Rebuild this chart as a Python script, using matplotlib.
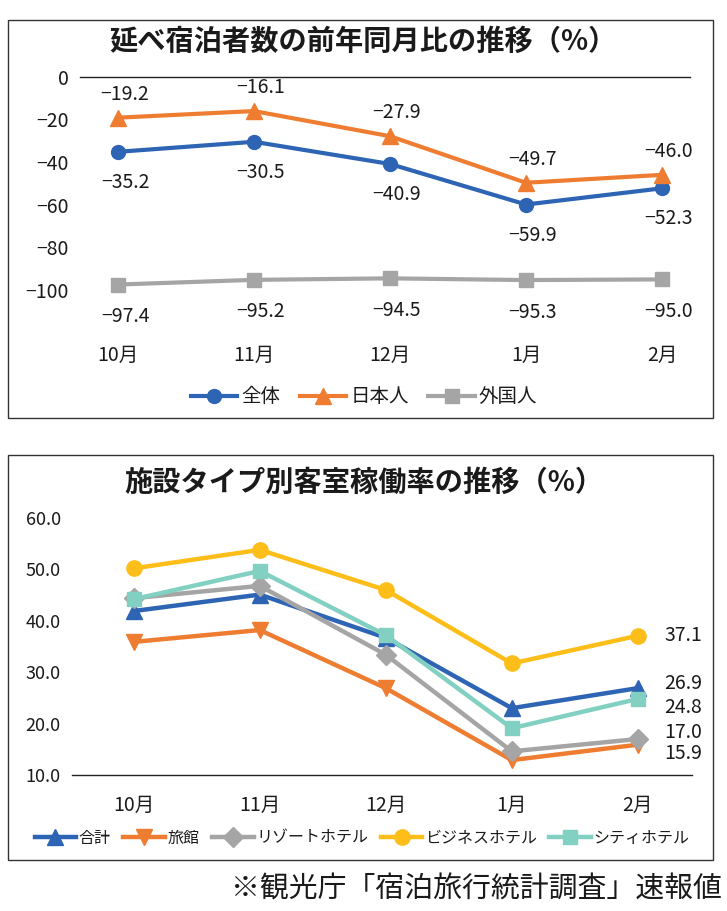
import matplotlib
matplotlib.use("Agg")
import matplotlib.pyplot as plt
from matplotlib.patches import Rectangle

plt.rcParams['font.family'] = ['Liberation Sans Narrow', 'Noto Sans CJK JP', 'DejaVu Sans']
plt.rcParams['axes.unicode_minus'] = True

# ---------------- data ----------------
months = ["10月", "11月", "12月", "1月", "2月"]

# chart 1: 延べ宿泊者数の前年同月比 (%)
total_yoy = [-35.2, -30.5, -40.9, -59.9, -52.3]
japanese_yoy = [-19.2, -16.1, -27.9, -49.7, -46.0]
foreign_yoy = [-97.4, -95.2, -94.5, -95.3, -95.0]
yoy_ticks = [0, -20, -40, -60, -80, -100]

# chart 2: 施設タイプ別客室稼働率 (%)
occ_total = [41.9, 45.1, 36.7, 23.0, 26.9]
occ_ryokan = [35.9, 38.2, 26.9, 12.9, 15.9]
occ_resort = [44.4, 46.8, 33.4, 14.6, 17.0]
occ_business = [50.2, 53.8, 46.0, 31.7, 37.1]
occ_city = [44.2, 49.7, 37.2, 19.1, 24.8]
occ_ticks = [10.0, 20.0, 30.0, 40.0, 50.0, 60.0]

BLUE = "#2E64B4"
ORANGE = "#EE7D31"
GRAY = "#A5A5A5"
YELLOW = "#FDBE1A"
TEAL = "#82D0C2"
TXT = "#1a1a1a"
CJK = ['Noto Sans CJK JP', 'DejaVu Sans']
NUM = ['Liberation Sans Narrow', 'Noto Sans CJK JP', 'DejaVu Sans']

W, H = 727, 911
fig = plt.figure(figsize=(W / 100, H / 100), dpi=100)


def fx(px):
    return px / W


def fy(py):
    return 1 - py / H


def frame(x0, y0, x1, y1):
    fig.patches.append(Rectangle((fx(x0), fy(y1)), fx(x1) - fx(x0), fy(y0) - fy(y1),
                                 transform=fig.transFigure, fill=False,
                                 edgecolor="#333333", linewidth=1.0))


def minus(v):
    return ("−" if v < 0 else "") + f"{abs(v):.1f}"


# ================= chart 1 =================
frame(8, 20, 713, 418)
fig.text(fx(363), fy(42), "延べ宿泊者数の前年同月比の推移（%）", ha="center", va="center",
         fontsize=20.3, fontweight="bold", family=CJK, color=TXT)

ax1 = fig.add_axes([fx(80), fy(328.5), fx(690) - fx(80), fy(76.7) - fy(328.5)])
x = list(range(len(months)))
l_tot, = ax1.plot(x, total_yoy, color=BLUE, lw=3, marker="o", ms=10, label="全体", zorder=3)
l_jp, = ax1.plot(x, japanese_yoy, color=ORANGE, lw=3, marker="^", ms=12, label="日本人", zorder=3)
l_fr, = ax1.plot(x, foreign_yoy, color=GRAY, lw=3, marker="s", ms=10, label="外国人", zorder=3)
ax1.set_xlim(-0.28, 4.206)
ax1.set_ylim(-118, 0)
ax1.axhline(0, color="#222222", lw=1.0, clip_on=False, zorder=2)
for s in ax1.spines.values():
    s.set_visible(False)
ax1.set_yticks(yoy_ticks)
ax1.set_yticklabels([minus(v).replace(".0", "") if v else "0" for v in yoy_ticks],
                    fontsize=14, family=NUM, color=TXT)
ax1.set_xticks(x)
ax1.set_xticklabels(months, fontsize=14, family=NUM, color=TXT)
ax1.tick_params(axis="both", length=0)
ax1.tick_params(axis="y", pad=8)
ax1.tick_params(axis="x", pad=12)
ax1.patch.set_visible(False)

for i in x:
    ax1.annotate(minus(japanese_yoy[i]), (i, japanese_yoy[i]), xytext=(5, 17),
                 textcoords="offset points", ha="center", va="center",
                 fontsize=14, family=NUM, color=TXT)
    ax1.annotate(minus(total_yoy[i]), (i, total_yoy[i]), xytext=(5, -22),
                 textcoords="offset points", ha="center", va="center",
                 fontsize=14, family=NUM, color=TXT)
    ax1.annotate(minus(foreign_yoy[i]), (i, foreign_yoy[i]), xytext=(5, -23),
                 textcoords="offset points", ha="center", va="center",
                 fontsize=14, family=NUM, color=TXT)

leg1 = fig.legend(handles=[l_tot, l_jp, l_fr], loc="center", bbox_to_anchor=(fx(364), fy(397)),
                  ncol=3, frameon=False, prop={"family": CJK, "size": 14},
                  handlelength=2.4, handletextpad=0.2, columnspacing=1.0)
for t in leg1.get_texts():
    t.set_color(TXT)

# ================= chart 2 =================
frame(8, 455, 713, 860)
fig.text(fx(364), fy(483), "施設タイプ別客室稼働率の推移（%）", ha="center", va="center",
         fontsize=20.3, fontweight="bold", family=CJK, color=TXT)

ax2 = fig.add_axes([fx(72), fy(775), fx(692) - fx(72), fy(518) - fy(775)])
series = [
    (occ_total, BLUE, "^", 12, "合計"),
    (occ_ryokan, ORANGE, "v", 12, "旅館"),
    (occ_resort, GRAY, "D", 10, "リゾートホテル"),
    (occ_business, YELLOW, "o", 11, "ビジネスホテル"),
    (occ_city, TEAL, "s", 10.5, "シティホテル"),
]
draw_order = [3, 1, 2, 4, 0]
lines = {}
for k in draw_order:
    vals, col, mk, ms, lab = series[k]
    ln, = ax2.plot(x, vals, color=col, lw=3.2, marker=mk, ms=ms, label=lab, zorder=3 + k * 0.1)
    lines[k] = ln
ax2.set_xlim(-0.49, 4.43)
ax2.set_ylim(10, 60)
for s in ax2.spines.values():
    s.set_visible(False)
ax2.axhline(10, color="#222222", lw=1.0, clip_on=False, zorder=2)
ax2.set_yticks(occ_ticks)
ax2.set_yticklabels([f"{v:.1f}" for v in occ_ticks], fontsize=13, family=NUM, color=TXT)
ax2.set_xticks(x)
ax2.set_xticklabels(months, fontsize=14, family=NUM, color=TXT)
ax2.tick_params(axis="both", length=0)
ax2.tick_params(axis="y", pad=8)
ax2.tick_params(axis="x", pad=14)
ax2.patch.set_visible(False)

end_offsets = [3.5, -6.5, 5, 0, -6]  # points, per series order
for k, (vals, col, mk, ms, lab) in enumerate(series):
    ax2.annotate(f"{vals[-1]:.1f}", (4, vals[-1]), xytext=(19, end_offsets[k]),
                 textcoords="offset points", ha="left", va="center",
                 fontsize=14, family=NUM, color=TXT)

leg2 = fig.legend(handles=[lines[k] for k in range(5)], loc="center",
                  bbox_to_anchor=(fx(362), fy(838)), ncol=5, frameon=False,
                  prop={"family": CJK, "size": 11.5}, handlelength=2.6,
                  handletextpad=0.15, columnspacing=0.8)
for t in leg2.get_texts():
    t.set_color(TXT)

fig.text(fx(722), fy(890), "※観光庁「宿泊旅行統計調査」速報値", ha="right", va="center",
         fontsize=20.8, family=CJK, color=TXT)

fig.savefig("out.png", dpi=100)
